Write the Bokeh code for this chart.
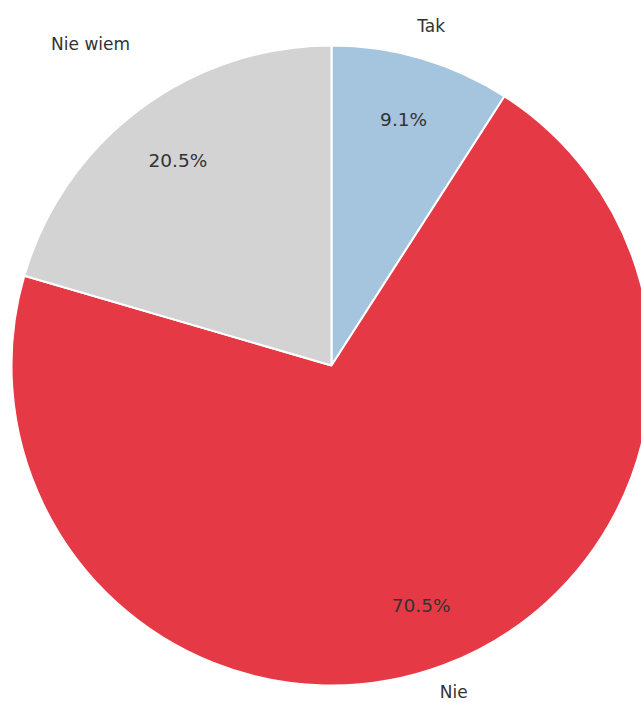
import math
from bokeh.plotting import figure
from bokeh.models import Range1d, ColumnDataSource
from bokeh.core.properties import value
from bokeh.embed import file_html
from bokeh.resources import INLINE

labels = ["Tak", "Nie", "Nie wiem"]
shares = [9.1, 70.5, 20.5]
colors = ["#a5c4dd", "#e63946", "#d3d3d3"]

W, H = 641, 702
CX, CY = 331, 365  # pie centre in pixels from top-left of the figure
R = 320
label_dist = [1.105, 1.09, 1.255]

p = figure(width=W, height=H, output_backend="svg", toolbar_location=None,
           x_range=Range1d(-CX, W - CX), y_range=Range1d(CY - H, CY),
           min_border=0)
p.axis.visible = False
p.grid.visible = False
p.outline_line_color = None
p.background_fill_color = "white"
p.border_fill_color = "white"

total = sum(shares)
starts, ends, mids = [], [], []
a = math.pi / 2
for s in shares:
    span = 2 * math.pi * s / total
    starts.append(a)
    ends.append(a - span)
    mids.append(a - span / 2)
    a -= span

src = ColumnDataSource(dict(start=starts, end=ends, color=colors))
p.wedge(x=0, y=0, radius=R, start_angle="start", end_angle="end",
        direction="clock", fill_color="color", line_color="white",
        line_width=2, source=src)

lx = [d * R * math.cos(m) for d, m in zip(label_dist, mids)]
ly = [d * R * math.sin(m) for d, m in zip(label_dist, mids)]
px = [0.8 * R * math.cos(m) for m in mids]
py = [0.8 * R * math.sin(m) for m in mids]
pct = [f"{s:.1f}%" for s in shares]

p.text(x=lx, y=ly, text=labels, text_align="center", text_baseline="middle",
       text_font=value("DejaVu Sans"), text_font_size="17px", text_color="#333333")
p.text(x=px, y=py, text=pct, text_align="center", text_baseline="middle",
       text_font=value("DejaVu Sans"), text_font_size="18.5px", text_color="#333333")

open("out.html", "w").write(file_html(p, INLINE))
